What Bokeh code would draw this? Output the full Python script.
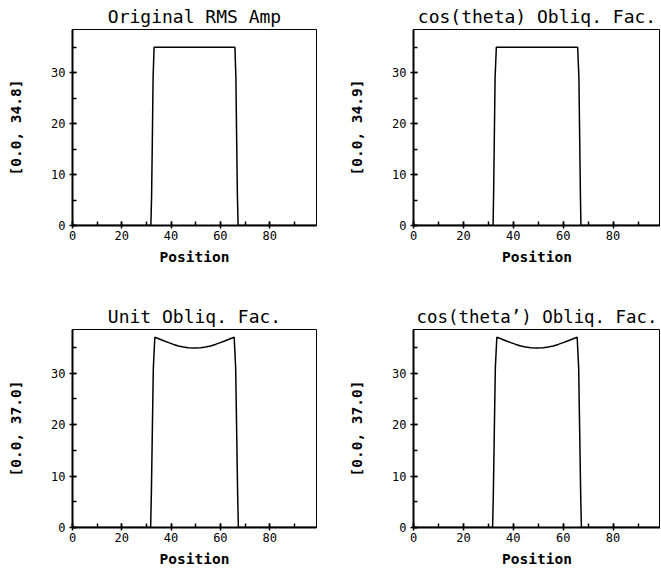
from bokeh.plotting import figure
from bokeh.layouts import gridplot
from bokeh.models import SingleIntervalTicker, Range1d
from bokeh.embed import file_html
from bokeh.resources import INLINE

# ---- data ----
titles = ["Original RMS Amp", "cos(theta) Obliq. Fac.", "Unit Obliq. Fac.", "cos(theta\u2019) Obliq. Fac."]
y_labels = ["[0.0, 34.8]", "[0.0, 34.9]", "[0.0, 37.0]", "[0.0, 37.0]"]
x_label = "Position"

pos_orig = [0, 31.8, 32.1, 32.4, 32.7, 33.1, 65.9, 66.3, 66.6, 66.9, 67.2, 99]
amp_orig = [0, 0, 6.0, 17.0, 29.0, 35.0, 35.0, 29.0, 17.0, 6.0, 0, 0]

pos_cos = [0, 31.9, 32.1, 32.4, 32.7, 33.2, 65.8, 66.3, 66.6, 66.9, 67.1, 99]
amp_cos = [0, 0, 6.0, 17.5, 29.0, 35.0, 35.0, 29.0, 17.5, 6.0, 0, 0]

pos_unit = [0, 31.7, 32.0, 32.4, 32.8, 33.4, 35, 37, 39, 41, 43, 45, 47, 49.5,
            52, 54, 56, 58, 60, 62, 64, 65.6, 66.2, 66.6, 67.0, 67.3, 99]
amp_unit = [0, 0, 6.5, 19.0, 31.0, 37.0, 36.7, 36.3, 35.95, 35.6, 35.3, 35.1, 34.95, 34.9,
            34.95, 35.1, 35.3, 35.6, 35.95, 36.3, 36.7, 37.0, 31.0, 19.0, 6.5, 0, 0]

pos_costp = [0, 31.7, 32.0, 32.4, 32.8, 33.4, 35, 37, 39, 41, 43, 45, 47, 49.5,
             52, 54, 56, 58, 60, 62, 64, 65.6, 66.2, 66.6, 67.0, 67.3, 99]
amp_costp = [0, 0, 6.5, 19.0, 31.0, 37.0, 36.7, 36.3, 35.95, 35.6, 35.3, 35.1, 34.95, 34.9,
             34.95, 35.1, 35.3, 35.6, 35.95, 36.3, 36.7, 37.0, 31.0, 19.0, 6.5, 0, 0]

series = [(pos_orig, amp_orig), (pos_cos, amp_cos), (pos_unit, amp_unit), (pos_costp, amp_costp)]

X_END = 99
Y_END = 38.5

MONO = "DejaVu Sans Mono"


def make_panel(i, width, height, mb_left, mb_right, mb_top, mb_bottom, title_size="18px"):
    xs, ys = series[i]
    p = figure(width=width, height=height,
               x_range=Range1d(0, X_END), y_range=Range1d(0, Y_END),
               output_backend="svg", toolbar_location=None,
               min_border_left=mb_left, min_border_top=mb_top,
               min_border_right=mb_right, min_border_bottom=mb_bottom)
    p.background_fill_color = "white"
    p.border_fill_color = "white"
    p.outline_line_color = "black"
    p.outline_line_width = 1
    p.outline_line_alpha = 1
    p.xgrid.visible = False
    p.ygrid.visible = False

    p.title.text = titles[i]
    p.title.align = "center"
    p.title.text_font = MONO
    p.title.text_font_size = title_size
    p.title.text_font_style = "normal"
    p.title.text_color = "black"
    p.title.standoff = 6

    p.xaxis.ticker = SingleIntervalTicker(interval=20, num_minor_ticks=2)
    p.yaxis.ticker = SingleIntervalTicker(interval=10, num_minor_ticks=2)
    for ax in (p.xaxis[0], p.yaxis[0]):
        ax.axis_line_width = 2
        ax.axis_line_color = "black"
        ax.major_tick_line_color = "black"
        ax.minor_tick_line_color = "black"
        ax.major_tick_line_width = 1.5
        ax.minor_tick_line_width = 1.5
        ax.major_tick_in = 4
        ax.major_tick_out = 3
        ax.minor_tick_in = 4
        ax.minor_tick_out = 0
        ax.major_label_text_font = MONO
        ax.major_label_text_font_size = "12px"
        ax.major_label_text_color = "black"
        ax.axis_label_text_font = MONO
        ax.axis_label_text_font_style = "bold"
        ax.axis_label_text_font_size = "14.5px"
        ax.axis_label_text_color = "black"
    p.xaxis.axis_label = x_label
    p.yaxis.axis_label = y_labels[i]
    p.xaxis.major_label_standoff = 2
    p.xaxis.axis_label_standoff = 6
    p.yaxis.major_label_standoff = 4
    p.yaxis.axis_label_standoff = 24

    p.line(xs, ys, line_color="black", line_width=1.5)
    return p


p1 = make_panel(0, 341, 300, 72, 22, 29, 75)
p2 = make_panel(1, 319, 300, 72, 0, 29, 75)
p3 = make_panel(2, 341, 270, 70, 25, 29, 43)
p4 = make_panel(3, 319, 270, 72, 0, 29, 43, title_size="17.4px")

grid = gridplot([[p1, p2], [p3, p4]], toolbar_location=None)

open("out.html", "w").write(file_html(grid, INLINE))
